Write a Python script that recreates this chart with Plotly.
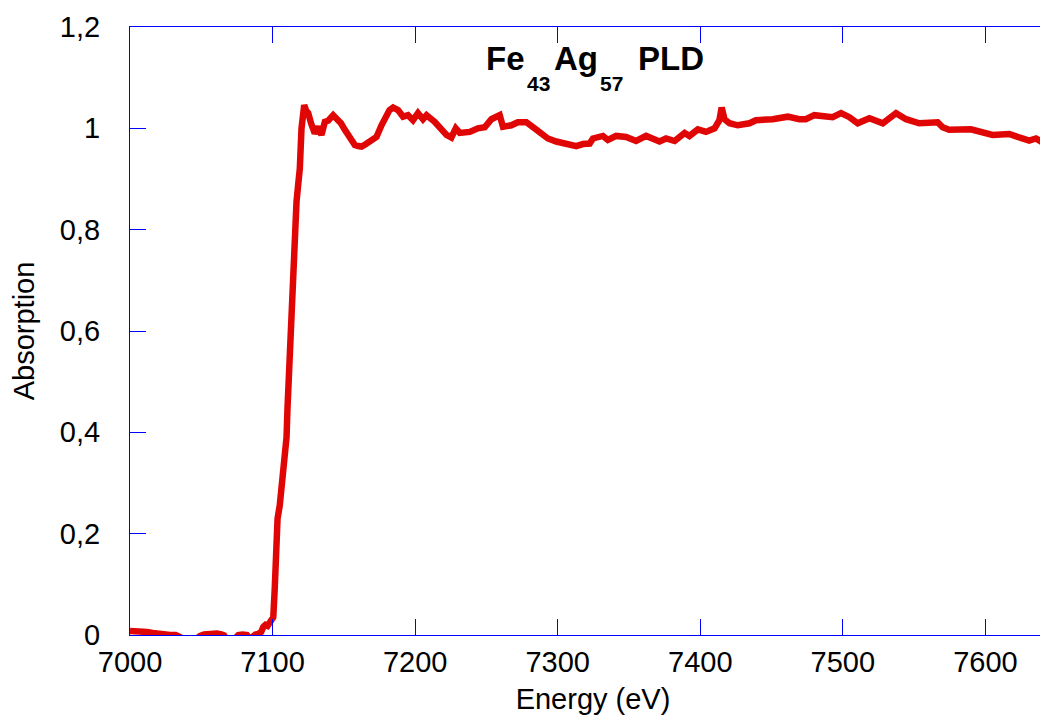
import plotly.graph_objects as go

# Data (Fe K-edge XANES of Fe43Ag57 PLD film)
energy_ev = [
    7000, 7004, 7008, 7012, 7016, 7020, 7024, 7028, 7032, 7035,
    7038, 7042, 7046, 7049, 7052, 7055, 7058, 7061, 7064, 7066,
    7068, 7071, 7074, 7076, 7079, 7082, 7084, 7086, 7088, 7090,
    7092, 7093.5, 7095, 7096.5, 7098, 7099.5, 7100.5, 7101.5, 7102.5, 7103.5,
    7105, 7106.5, 7108, 7109.8, 7110.5, 7111.6, 7112.5, 7113.3, 7114.2, 7115,
    7116, 7116.8, 7118, 7119.1, 7120.3, 7121, 7122.2, 7123.5, 7125, 7127,
    7129.6, 7132, 7134.3, 7136.7, 7139, 7142.5, 7146, 7148, 7150.7, 7154.2,
    7157.7, 7160, 7162.4, 7165, 7167, 7170, 7172.9, 7176.4, 7179.9, 7182,
    7184.5, 7188, 7191.5, 7195, 7198.5, 7202, 7205.5, 7208, 7213.7, 7218,
    7222, 7225.4, 7228.5, 7231.3, 7238.3, 7244, 7248.8, 7253.5, 7259.3, 7261.6,
    7267.5, 7272, 7278, 7283.8, 7287.3, 7293.1, 7299, 7306, 7313, 7317.7,
    7322.4, 7324.7, 7331.7, 7335.2, 7341, 7348, 7355, 7362, 7371.4, 7376,
    7382, 7389, 7392.4, 7398.3, 7404, 7410, 7413.4, 7415, 7417, 7420.5,
    7426.3, 7434.5, 7439, 7450.8, 7461.3, 7469.5, 7474, 7480, 7488.2, 7492.8,
    7498.7, 7504.6, 7510.4, 7518.6, 7528, 7537.3, 7544.3, 7553.6, 7566.5, 7570,
    7574.6, 7589.8, 7605, 7616.7, 7623.7, 7630.7, 7635.4, 7639, 7642.5, 7648,
]
absorption = [
    0.008, 0.008, 0.007, 0.006, 0.004, 0.002, 0.001, 0.0, 0.0, -0.004,
    -0.012, -0.014, -0.010, -0.002, 0.001, 0.002, 0.004, 0.003, 0.001, -0.001,
    -0.010, -0.012, -0.006, 0.0, 0.001, 0.0, -0.008, -0.002, 0.001, 0.002,
    0.006, 0.016, 0.020, 0.018, 0.024, 0.026, 0.035, 0.09, 0.18, 0.23,
    0.255, 0.29, 0.34, 0.39, 0.45, 0.52, 0.60, 0.655, 0.72, 0.78,
    0.82, 0.855, 0.89, 0.92, 1.0, 1.03, 1.046, 1.035, 1.03, 1.01,
    0.99, 1.003, 0.987, 1.013, 1.015, 1.026, 1.016, 1.01, 0.997, 0.98,
    0.967, 0.965, 0.964, 0.968, 0.972, 0.975, 0.983, 1.006, 1.03, 1.036,
    1.041, 1.036, 1.023, 1.026, 1.016, 1.03, 1.018, 1.026, 1.013, 1.0,
    0.987, 0.982, 1.0, 0.991, 0.993, 1.0, 1.002, 1.018, 1.026, 1.003,
    1.006, 1.012, 1.012, 1.0, 0.993, 0.98, 0.974, 0.97, 0.965, 0.969,
    0.97, 0.98, 0.985, 0.977, 0.985, 0.983, 0.975, 0.985, 0.974, 0.98,
    0.975, 0.991, 0.985, 0.998, 0.993, 1.0, 1.016, 1.041, 1.018, 1.01,
    1.006, 1.01, 1.016, 1.018, 1.023, 1.018, 1.018, 1.026, 1.022, 1.022,
    1.03, 1.022, 1.01, 1.02, 1.01, 1.03, 1.018, 1.01, 1.012, 1.002,
    0.997, 0.998, 0.987, 0.989, 0.982, 0.976, 0.98, 0.974, 0.98, 0.978,
]

x_tick_vals = [7000, 7100, 7200, 7300, 7400, 7500, 7600]
x_tick_text = ["7000", "7100", "7200", "7300", "7400", "7500", "7600"]
y_tick_vals = [0, 0.2, 0.4, 0.6, 0.8, 1.0, 1.2]
y_tick_text = ["0", "0,2", "0,4", "0,6", "0,8", "1", "1,2"]

title_parts = ["Fe", "43", "Ag", "57", "PLD"]

FONT = "Liberation Sans, Arial, sans-serif"
AXIS_BLUE = "#0000ff"
LINE_RED = "#e00606"

fig = go.Figure()
fig.add_trace(go.Scatter(
    x=energy_ev, y=absorption, mode="lines",
    line=dict(color=LINE_RED, width=6.5),
    showlegend=False, hoverinfo="x+y",
))

# page body has an 8px margin; the plot frame's right side runs past the window
fig.update_layout(
    width=1048, height=710,
    margin=dict(l=122, r=0, t=19, b=83, pad=0),
    paper_bgcolor="white", plot_bgcolor="white",
    font=dict(family=FONT, color="black", size=29),
    separators=", ",
    showlegend=False,
)

fig.update_xaxes(
    range=[7000, 7649.5], tickvals=x_tick_vals, ticktext=x_tick_text,
    showgrid=False, zeroline=False,
    showline=True, linecolor=AXIS_BLUE, linewidth=1,
    ticks="inside", ticklen=16, tickwidth=1, tickcolor=AXIS_BLUE,
    mirror="ticks",
    tickfont=dict(size=29, family=FONT, color="black"),
    ticklabelstandoff=1,
    title=dict(text="Energy (eV)", font=dict(size=29, family=FONT, color="black"), standoff=11),
)
fig.update_yaxes(
    range=[0, 1.2], tickvals=y_tick_vals, ticktext=y_tick_text,
    showgrid=False, zeroline=False,
    showline=True, linecolor=AXIS_BLUE, linewidth=1,
    ticks="inside", ticklen=16, tickwidth=1, tickcolor=AXIS_BLUE,
    mirror="ticks",
    tickfont=dict(size=29, family=FONT, color="black"),
    ticklabelstandoff=23,
    title=dict(text="Absorption", font=dict(size=29, family=FONT, color="black"), standoff=20),
)

# Title "Fe43Ag57 PLD" with deep subscripts
title_x = [0.4059, 0.4414, 0.4814, 0.5198, 0.5841]
title_y = [0.949, 0.9074, 0.949, 0.9074, 0.949]
title_size = [33, 21, 33, 21, 33]
for txt, tx, ty, ts in zip(title_parts, title_x, title_y, title_size):
    fig.add_annotation(text=f"<b>{txt}</b>", x=tx, y=ty, xref="paper", yref="paper",
                       xanchor="center", yanchor="middle", showarrow=False,
                       font=dict(size=ts, family=FONT, color="black"))

fig.write_html("out.html")
